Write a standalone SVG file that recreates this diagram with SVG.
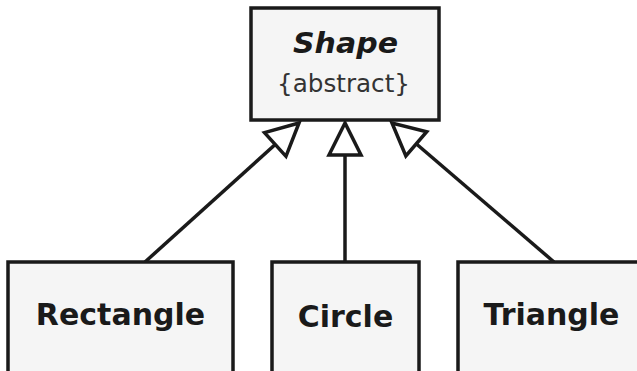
<svg xmlns="http://www.w3.org/2000/svg" width="637" height="371" viewBox="0 0 637 371">
<style>
.box{fill:#f5f5f5;stroke:#1a1a1a;stroke-width:3.5}
.edge{stroke:#1a1a1a;stroke-width:3.5;fill:none}
.lbl{font-family:"DejaVu Sans",sans-serif;font-weight:bold;font-size:30px;fill:#1a1a1a;text-anchor:middle}
.title{font-family:"DejaVu Sans",sans-serif;font-weight:bold;font-style:italic;font-size:27.5px;fill:#1a1a1a;text-anchor:middle}
.stereo{font-family:"DejaVu Sans",sans-serif;font-size:24px;fill:#333333;text-anchor:middle}
</style>
<defs>
<marker id="inh" viewBox="0 0 40 40" refX="36" refY="20" markerWidth="40" markerHeight="40" markerUnits="userSpaceOnUse" orient="auto">
<path d="M36,20 L4,4 L4,36 Z" fill="#ffffff" stroke="#1a1a1a" stroke-width="3.5" stroke-linejoin="miter"/>
</marker>
</defs>
<rect width="637" height="371" fill="#ffffff"/>
<g id="connectors">
<line class="edge" x1="145" y1="262" x2="299" y2="123" marker-end="url(#inh)"/>
<line class="edge" x1="345" y1="262" x2="345" y2="123" marker-end="url(#inh)"/>
<line class="edge" x1="554" y1="262" x2="392" y2="123" marker-end="url(#inh)"/>
</g>
<g id="shape">
<rect class="box" x="251" y="8" width="188" height="112"/>
<text class="title" x="345.5" y="53" textLength="105" lengthAdjust="spacingAndGlyphs">Shape</text>
<text class="stereo" x="343.5" y="92" textLength="133" lengthAdjust="spacingAndGlyphs">{abstract}</text>
</g>
<g id="rectangle">
<rect class="box" x="8" y="262" width="225" height="130"/>
<text class="lbl" x="120.5" y="325">Rectangle</text>
</g>
<g id="circle">
<rect class="box" x="272" y="262" width="147" height="130"/>
<text class="lbl" x="345.5" y="327">Circle</text>
</g>
<g id="triangle">
<rect class="box" x="458" y="262" width="200" height="130"/>
<text class="lbl" x="551.5" y="325">Triangle</text>
</g>
</svg>
